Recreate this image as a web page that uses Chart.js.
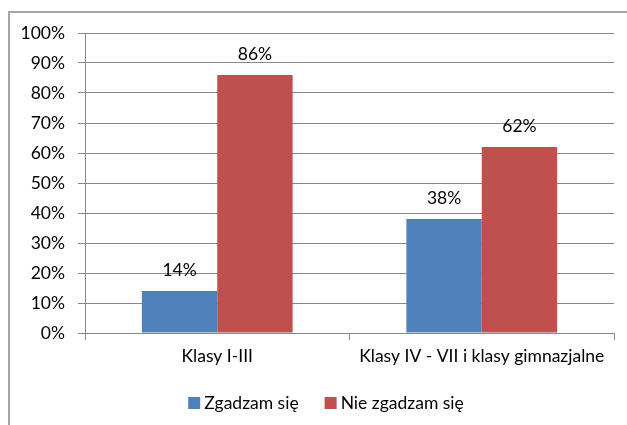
<!DOCTYPE html>
<html>
<head>
<meta charset="utf-8">
<script src="https://cdn.jsdelivr.net/npm/chart.js@4"></script>
<style>
  html, body { margin: 0; padding: 0; background: #fff; overflow: hidden; }
  #wrap { position: relative; width: 627px; height: 425px; }
  #frame { position: absolute; left: 8px; top: 11px; width: 700px; height: 500px;
           border-left: 2px solid #a6a6a6; border-top: 2px solid #a6a6a6; box-sizing: border-box; pointer-events: none; }
  canvas { position: absolute; left: 0; top: 0; }
</style>
</head>
<body>
<div id="wrap">
  <canvas id="c" width="627" height="425"></canvas>
  <div id="frame"></div>
</div>
<script>
const categories = ["Klasy I-III", "Klasy IV - VII i klasy gimnazjalne"];
const seriesNames = ["Zgadzam się", "Nie zgadzam się"];
const agreeValues = [14, 38];
const disagreeValues = [86, 62];
const yTicks = [0, 10, 20, 30, 40, 50, 60, 70, 80, 90, 100];

const FONT = "Lato, 'Open Sans', sans-serif";
const FS = 17.5;
const colors = ["#4F81BD", "#C0504D"];
const gridColor = "#888888";

const valueLabels = {
  id: "valueLabels",
  afterDatasetsDraw(chart) {
    const ctx = chart.ctx;
    ctx.save();
    ctx.font = FS + "px " + FONT;
    ctx.fillStyle = "#000";
    ctx.textAlign = "center";
    ctx.textBaseline = "middle";
    chart.data.datasets.forEach((ds, i) => {
      chart.getDatasetMeta(i).data.forEach((bar, j) => {
        ctx.fillText(ds.data[j] + "%", bar.x, bar.y - 21);
      });
    });
    ctx.restore();
  }
};

const customLegend = {
  id: "customLegend",
  afterDraw(chart) {
    const ctx = chart.ctx;
    ctx.save();
    ctx.font = FS + "px " + FONT;
    ctx.textBaseline = "middle";
    ctx.textAlign = "left";
    const box = 12, gapText = 4, gapItem = 26;
    let total = 0;
    const widths = seriesNames.map(n => ctx.measureText(n).width);
    widths.forEach((w, i) => { total += box + gapText + w + (i < widths.length - 1 ? gapItem : 0); });
    let x = 326 - total / 2;
    const y = 403;
    seriesNames.forEach((n, i) => {
      ctx.fillStyle = colors[i];
      ctx.fillRect(x, y - box / 2, box, box);
      x += box + gapText;
      ctx.fillStyle = "#000";
      ctx.fillText(n, x, y);
      x += widths[i] + gapItem;
    });
    ctx.restore();
  }
};

new Chart(document.getElementById("c"), {
  type: "bar",
  data: {
    labels: categories,
    datasets: [
      { label: seriesNames[0], data: agreeValues, backgroundColor: colors[0] },
      { label: seriesNames[1], data: disagreeValues, backgroundColor: colors[1] }
    ]
  },
  options: {
    responsive: false,
    animation: false,
    devicePixelRatio: 1,
    layout: { padding: { top: 33, right: 13, left: 0, bottom: 0 } },
    plugins: { legend: { display: false }, tooltip: { enabled: false } },
    datasets: { bar: { categoryPercentage: 0.57, barPercentage: 1.0 } },
    scales: {
      x: {
        grid: { drawOnChartArea: false, drawTicks: true, tickLength: 7, color: gridColor, offset: true },
        border: { color: gridColor, width: 1 },
        ticks: { color: "#000", font: { size: FS, family: FONT }, padding: 6, maxRotation: 0 },
        afterFit(scale) { scale.height = 92; }
      },
      y: {
        min: 0, max: 100,
        afterBuildTicks(scale) { scale.ticks = yTicks.map(v => ({ value: v })); },
        grid: { color: gridColor, tickLength: 7, drawTicks: true },
        border: { color: gridColor, width: 1 },
        ticks: { color: "#000", font: { size: FS, family: FONT }, padding: 13, callback: v => v + "%" },
        afterFit(scale) { scale.width = 85; }
      }
    }
  },
  plugins: [valueLabels, customLegend]
});
</script>
</body>
</html>
